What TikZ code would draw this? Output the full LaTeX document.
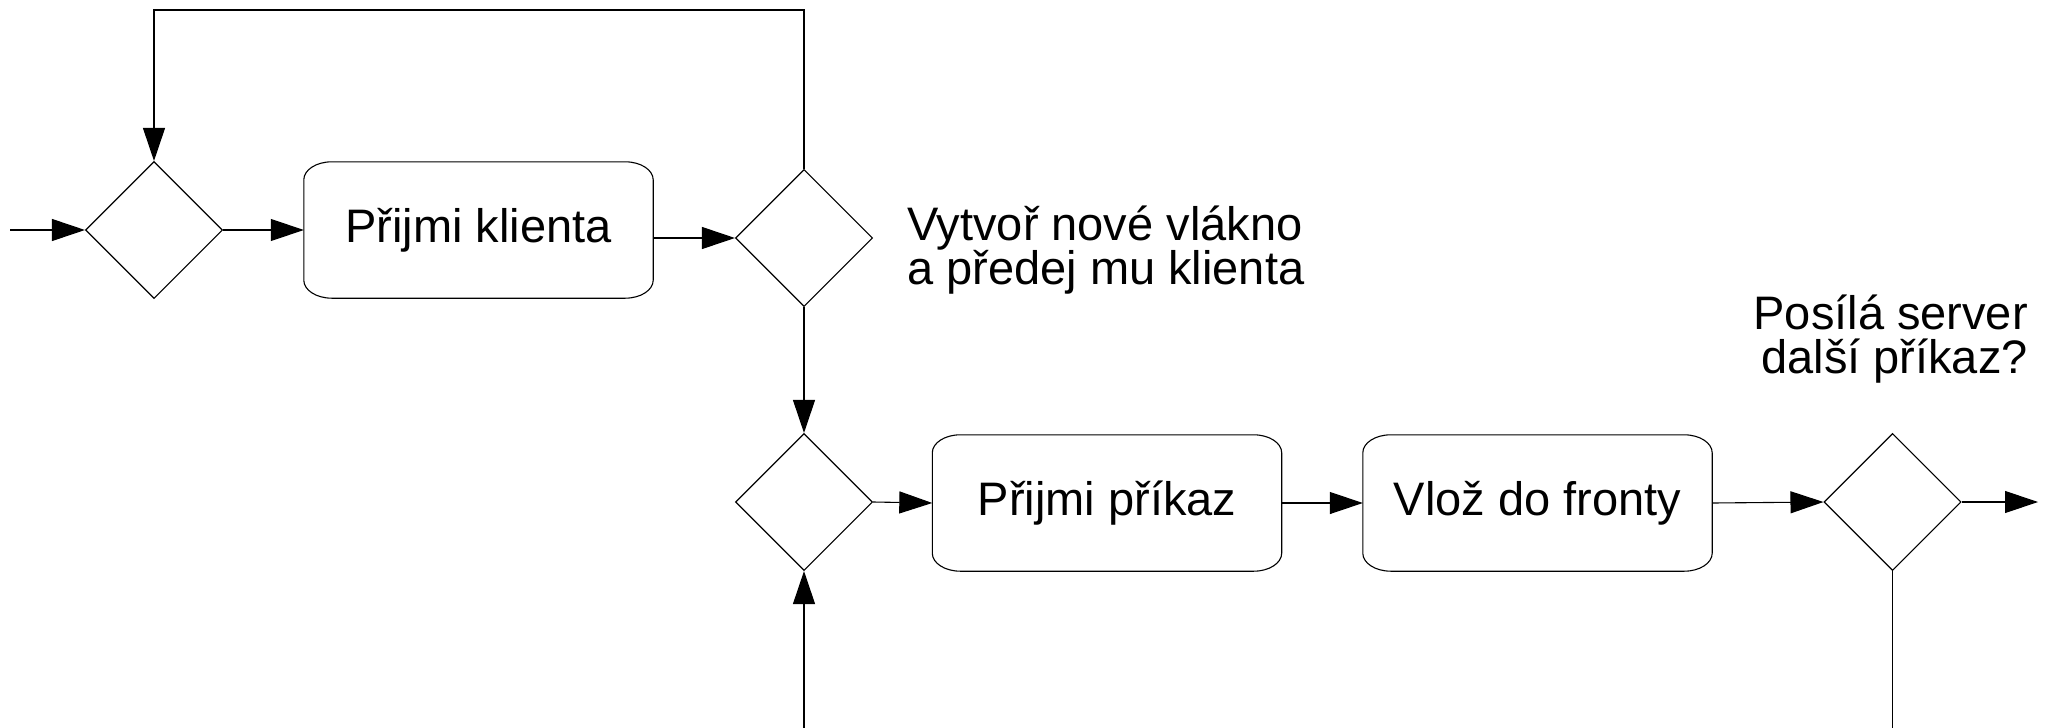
\documentclass[tikz,border=0pt]{standalone}
\usepackage{fontspec}
\setmainfont{Liberation Sans}
\usetikzlibrary{shapes.geometric,arrows.meta}
\tikzset{
  ln/.style={line width=1.1pt, draw=black},
  dec/.style={diamond, draw, line width=1.1pt, minimum width=137pt, minimum height=137pt, inner sep=0pt, aspect=1},
  procbox/.style={minimum width=349pt, minimum height=136pt, inner sep=0pt, font=\fontsize{47pt}{44pt}\selectfont},
  lbl/.style={inner sep=0pt, font=\fontsize{47pt}{44pt}\selectfont},
  arr/.style={ln, -{Triangle[length=33pt,width=22pt]}}
}
\newcommand\ellbox[1]{%
  \draw[ln] ([yshift=-18pt]#1.north west)
    arc[start angle=180,end angle=90,x radius=28pt,y radius=18pt]
    -- ([xshift=-28pt]#1.north east)
    arc[start angle=90,end angle=0,x radius=28pt,y radius=18pt]
    -- ([yshift=18pt]#1.south east)
    arc[start angle=0,end angle=-90,x radius=28pt,y radius=18pt]
    -- ([xshift=28pt]#1.south west)
    arc[start angle=270,end angle=180,x radius=28pt,y radius=18pt]
    -- cycle;}
\begin{document}
\begin{tikzpicture}[x=1pt,y=1pt]
\useasboundingbox (0,0) rectangle (2045,-728);
% nodes
\node[dec] (d1) at (154,-230) {};
\node[procbox] (b1) at (478.5,-230) {Přijmi klienta};
\node[dec] (d2) at (804,-238) {};
\node[dec] (d3) at (804,-502) {};
\node[procbox] (b2) at (1107,-503) {Přijmi příkaz};
\node[procbox] (b3) at (1537.5,-503) {Vlož do fronty};
\node[dec] (d4) at (1892.5,-502) {};
\node[lbl, anchor=base west, align=left] (t1) at (907,-284) {Vytvoř nové vlákno\\a předej mu klienta};
\node[lbl, anchor=base east, align=right] (t2) at (2028,-373) {Posílá server\\další příkaz?};
\ellbox{b1}
\ellbox{b2}
\ellbox{b3}
% free ends
\coordinate (in) at (10,-230);
\coordinate (out) at (2038,-502);
\coordinate (top1) at (154,-10);
\coordinate (top2) at (804,-10);
\coordinate (bot3) at (804,-728);
\coordinate (bot4) at (1892.5,-728);
% connectors
\draw[arr] (in) -- (d1.west);
\draw[arr] (d1.east) -- (b1.west);
\draw[arr] (b1.east |- d2.west) -- (d2.west);
\draw[arr] (d2.north) -- (top2) -- (top1) -- (d1.north);
\draw[arr] (d2.south) -- (d3.north);
\draw[arr] (bot3) -- (d3.south);
\draw[arr] (d3.east) -- (b2.west);
\draw[arr] (b2.east) -- (b3.west);
\draw[arr] (b3.east) -- (d4.west);
\draw[arr] (d4.east) -- (out);
\draw[ln] (d4.south) -- (bot4);
\end{tikzpicture}
\end{document}
